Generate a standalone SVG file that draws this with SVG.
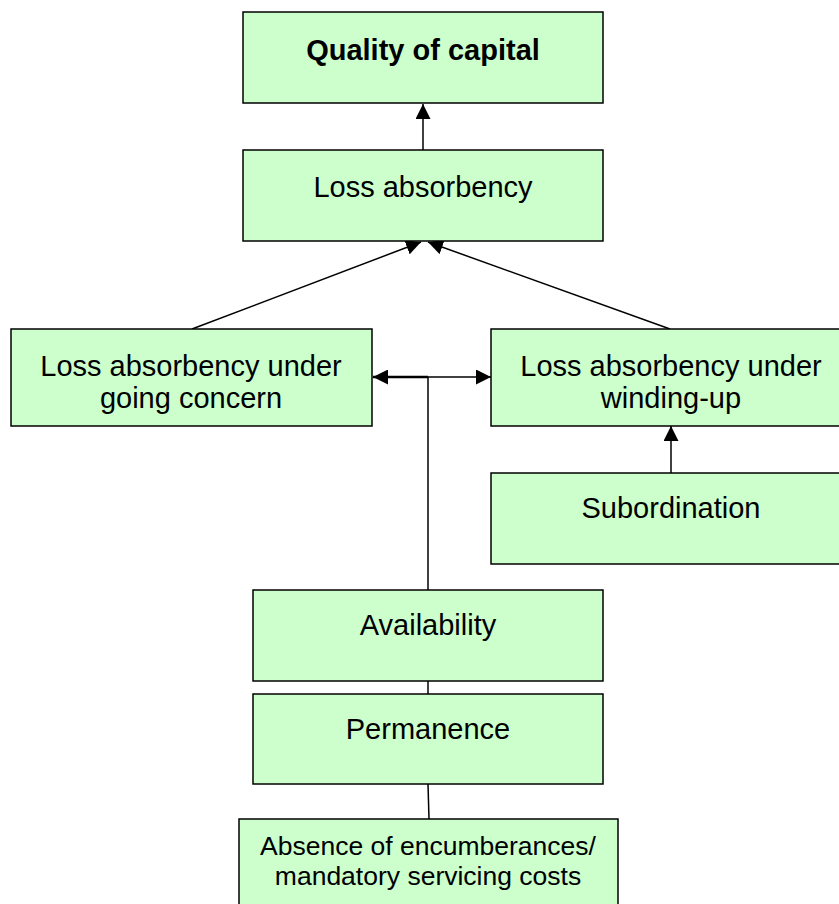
<svg xmlns="http://www.w3.org/2000/svg" width="839" height="904" viewBox="0 0 839 904">
<style>
.box{fill:#CCFFCC;stroke:#000;stroke-width:1.5}
.t{font-family:"Liberation Sans",Arial,sans-serif;font-size:29px;fill:#000;text-anchor:middle}
.b{font-weight:bold}
.s{font-size:26.5px}
.c{stroke:#000;stroke-width:1.5;fill:none}
.w{stroke-width:2.5}
</style>
<defs>
<marker id="ah" viewBox="0 0 10 10" refX="10" refY="5" markerWidth="15" markerHeight="15" markerUnits="userSpaceOnUse" orient="auto">
<path d="M0,0 L10,5 L0,10 Z" fill="#000"/>
</marker>
</defs>
<rect width="839" height="904" fill="#fff"/>
<g id="connectors">
<line class="c" x1="423" y1="150" x2="423" y2="104" marker-end="url(#ah)"/>
<line class="c" x1="192" y1="329" x2="421" y2="242" marker-end="url(#ah)"/>
<line class="c" x1="670" y1="329" x2="428" y2="242" marker-end="url(#ah)"/>
<line class="c w" x1="428" y1="377" x2="373" y2="377" marker-end="url(#ah)"/>
<line class="c" x1="428" y1="377" x2="491" y2="377" marker-end="url(#ah)"/>
<line class="c" x1="428" y1="590" x2="428" y2="377"/>
<line class="c" x1="671" y1="473" x2="671" y2="426" marker-end="url(#ah)"/>
<line class="c" x1="428" y1="681" x2="428" y2="694"/>
<line class="c" x1="428" y1="784" x2="429" y2="819"/>
</g>
<g id="quality">
<rect class="box" x="243" y="12" width="360" height="91"/>
<text class="t b" x="423" y="60">Quality of capital</text>
</g>
<g id="loss">
<rect class="box" x="243" y="150" width="360" height="91"/>
<text class="t" x="423" y="197">Loss absorbency</text>
</g>
<g id="going">
<rect class="box" x="11" y="329" width="361" height="97"/>
<text class="t" x="191" y="376">Loss absorbency under</text>
<text class="t" x="191" y="408">going concern</text>
</g>
<g id="winding">
<rect class="box" x="491" y="329" width="360" height="97"/>
<text class="t" x="671" y="376">Loss absorbency under</text>
<text class="t" x="671" y="408">winding-up</text>
</g>
<g id="subordination">
<rect class="box" x="491" y="473" width="360" height="91"/>
<text class="t" x="671" y="518">Subordination</text>
</g>
<g id="availability">
<rect class="box" x="253" y="590" width="350" height="91"/>
<text class="t" x="428" y="635">Availability</text>
</g>
<g id="permanence">
<rect class="box" x="253" y="694" width="350" height="90"/>
<text class="t" x="428" y="739">Permanence</text>
</g>
<g id="absence">
<rect class="box" x="239" y="819" width="379" height="100"/>
<text class="t s" x="428" y="855">Absence of encumberances/</text>
<text class="t s" x="428" y="885">mandatory servicing costs</text>
</g>
</svg>
